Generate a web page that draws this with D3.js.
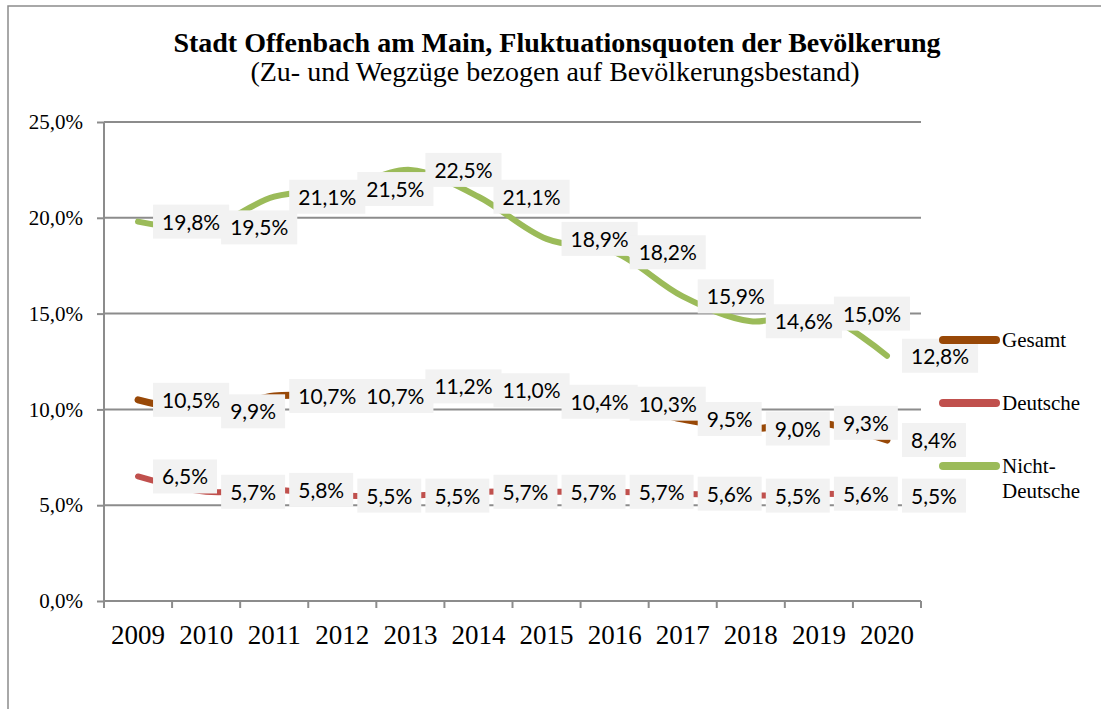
<!DOCTYPE html>
<html>
<head>
<meta charset="utf-8">
<script src="https://cdn.jsdelivr.net/npm/d3@7"></script>
<style>
  body { margin: 0; background: #fff; }
  svg { display: block; }
  .serif { font-family: "Liberation Serif", "DejaVu Serif", serif; fill: #000; }
  .lbl { font-family: Lato, "Noto Sans", sans-serif; font-size: 21px; fill: #000; }
</style>
</head>
<body>
<svg id="chart" width="1101" height="709"></svg>
<script>
// Daten
const years = ['2009', '2010', '2011', '2012', '2013', '2014', '2015', '2016', '2017', '2018', '2019', '2020'];
const gesamt = [10.5, 9.9, 10.7, 10.7, 11.2, 11.0, 10.4, 10.3, 9.5, 9.0, 9.3, 8.4];
const deutsche = [6.5, 5.7, 5.8, 5.5, 5.5, 5.7, 5.7, 5.7, 5.6, 5.5, 5.6, 5.5];
const nichtDeutsche = [19.8, 19.5, 21.1, 21.5, 22.5, 21.1, 18.9, 18.2, 15.9, 14.6, 15.0, 12.8];
const yTicks = [0, 5, 10, 15, 20, 25];

const seriesList = [
    { name: ['Gesamt'], values: gesamt, color: '#984807', width: 7 },
    { name: ['Deutsche'], values: deutsche, color: '#c0504d', width: 6 },
    { name: ['Nicht-', 'Deutsche'], values: nichtDeutsche, color: '#9bbb59', width: 6 }
];

const fmt = v => d3.format('.1f')(v).replace('.', ',') + '%';

const svg = d3.select('#chart');

// Rahmen des Diagrammbereichs
svg.append('path')
    .attr('d', 'M8,709V6H1101')
    .attr('fill', 'none')
    .attr('stroke', '#8c8c8c')
    .attr('stroke-width', 1.5);

// Titel
const title = svg.append('text')
    .attr('class', 'serif')
    .attr('x', 557)
    .attr('y', 52)
    .attr('text-anchor', 'middle')
    .style('font-size', '24px')
    .style('font-weight', 'bold')
    .text('Stadt Offenbach am Main, Fluktuationsquoten der Bevölkerung');

const subtitle = svg.append('text')
    .attr('class', 'serif')
    .attr('x', 555)
    .attr('y', 81)
    .attr('text-anchor', 'middle')
    .style('font-size', '23px')
    .text('(Zu- und Wegzüge bezogen auf Bevölkerungsbestand)');

// Schriftgröße an die Breite im Original anpassen
[[title, 769, 24], [subtitle, 614, 23]].forEach(([t, w, fs]) => {
    const len = t.node().getComputedTextLength();
    const size = Math.min(28, fs * w / len);
    t.style('font-size', size.toFixed(1) + 'px');
});

// Skalen
const x = d3.scaleBand().domain(years).range([104, 921]);
const cx = d => x(d) + x.bandwidth() / 2;
const y = d3.scaleLinear().domain([0, 25]).range([601, 122]);

// Gitternetz
svg.append('g')
    .selectAll('line')
    .data(yTicks.filter(d => d > 0))
    .enter()
    .append('line')
    .attr('x1', 104)
    .attr('x2', 921)
    .attr('y1', d => y(d))
    .attr('y2', d => y(d))
    .attr('stroke', '#8c8c8c')
    .attr('stroke-width', 2);

// Y-Achse
const yAxis = svg.append('g')
    .attr('transform', 'translate(104,0)')
    .call(d3.axisLeft(y).tickValues(yTicks).tickFormat(fmt).tickSize(7).tickPadding(14));
yAxis.select('.domain').attr('stroke', '#8c8c8c').attr('stroke-width', 2).attr('d', `M0,${y(25)}V${y(0)}`);
yAxis.selectAll('.tick line').attr('stroke', '#8c8c8c').attr('stroke-width', 2);
yAxis.selectAll('.tick text')
    .attr('class', 'serif')
    .style('font-size', '21px')
    .attr('fill', '#000');

// X-Achse
const xAxis = svg.append('g')
    .attr('transform', `translate(0,${y(0)})`)
    .call(d3.axisBottom(x).tickSize(0).tickPadding(0));
xAxis.select('.domain').remove();
xAxis.selectAll('.tick text')
    .attr('class', 'serif')
    .attr('dy', null)
    .attr('y', 43)
    .style('font-size', '27px')
    .attr('fill', '#000');

svg.append('line')
    .attr('x1', 104).attr('x2', 921)
    .attr('y1', y(0)).attr('y2', y(0))
    .attr('stroke', '#8c8c8c')
    .attr('stroke-width', 2);

svg.append('g')
    .selectAll('line')
    .data(d3.range(years.length + 1))
    .enter()
    .append('line')
    .attr('x1', i => 104 + i * x.step())
    .attr('x2', i => 104 + i * x.step())
    .attr('y1', y(0))
    .attr('y2', y(0) + 7)
    .attr('stroke', '#8c8c8c')
    .attr('stroke-width', 2);

// Linien
const line = d3.line()
    .x((d, i) => cx(years[i]))
    .y(d => y(d))
    .curve(d3.curveCatmullRom.alpha(0.5));

svg.append('g')
    .selectAll('path')
    .data(seriesList)
    .enter()
    .append('path')
    .attr('d', s => line(s.values))
    .attr('fill', 'none')
    .attr('stroke', s => s.color)
    .attr('stroke-width', s => s.width)
    .attr('stroke-linecap', 'round')
    .attr('stroke-linejoin', 'round');

// Datenbeschriftungen
const labelLayer = svg.append('g');
seriesList.forEach(s => {
    s.values.forEach((v, i) => {
        const px = cx(years[i]);
        const py = y(v);
        const g = labelLayer.append('g');
        const rect = g.append('rect').attr('fill', '#f2f2f2');
        const t = g.append('text')
            .attr('class', 'lbl')
            .attr('x', px + 24)
            .attr('y', py + 8)
            .text(fmt(v));
        const w = t.node().getComputedTextLength();
        rect.attr('x', px + 15)
            .attr('y', py - 17)
            .attr('width', w + 18)
            .attr('height', 34);
    });
});

// Legende
const legendY = [340, 403, 466];
const legend = svg.append('g');
seriesList.forEach((s, i) => {
    legend.append('line')
        .attr('x1', 943).attr('x2', 996)
        .attr('y1', legendY[i]).attr('y2', legendY[i])
        .attr('stroke', s.color)
        .attr('stroke-width', 8)
        .attr('stroke-linecap', 'round');
    s.name.forEach((n, j) => {
        legend.append('text')
            .attr('class', 'serif')
            .attr('x', 1002)
            .attr('y', legendY[i] + 7 + j * 25)
            .style('font-size', '21px')
            .text(n);
    });
});
</script>
</body>
</html>
